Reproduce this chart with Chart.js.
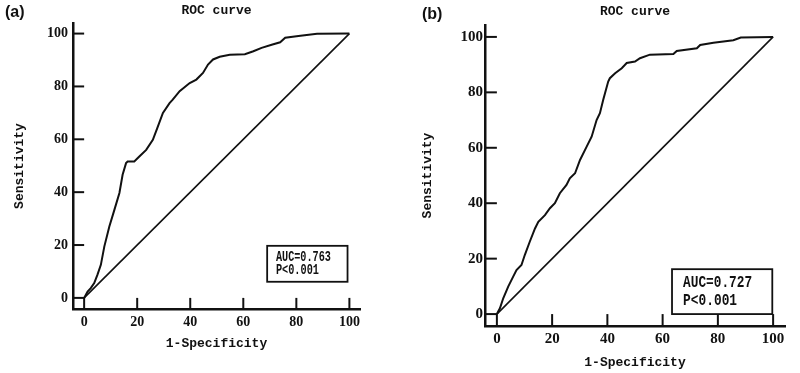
<!DOCTYPE html>
<html>
<head>
<meta charset="utf-8">
<script src="https://cdn.jsdelivr.net/npm/chart.js@4/dist/chart.umd.min.js"></script>
<style>
  body { margin: 0; background: #fff; }
  #wrap { position: relative; width: 800px; height: 373px; }
  .panel { position: absolute; top: 0; width: 400px; height: 373px; }
  .tag { position: absolute; font: bold 16px "Liberation Sans", Arial, sans-serif; color: #111; line-height: 16px; }
</style>
</head>
<body>
<div id="wrap">
  <div class="panel" style="left:0"><canvas id="rocA" width="400" height="373"></canvas></div>
  <div class="panel" style="left:400px"><canvas id="rocB" width="400" height="373"></canvas></div>
  <div class="tag" style="left:5px;top:4px">(a)</div>
  <div class="tag" style="left:422px;top:6px">(b)</div>
</div>
<script>
const tickVals = [0, 20, 40, 60, 80, 100];
const diagX = [0, 100];
const diagY = [0, 100];

const rocAX = [0, 1.3, 2.5, 3.8, 5, 6.3, 7.6, 9.5, 11.4, 13.3, 14.5, 15.8, 16.4, 18.9, 20.8, 23.4, 25.9, 27.5, 29.7, 32.2, 33.4, 36, 39.8, 42.3, 44.8, 46.7, 48.6, 51.1, 54.9, 60.6, 63.8, 66.9, 70.7, 73.9, 75.8, 80.8, 87.8, 100];
const rocAY = [0, 2.4, 3.7, 5.6, 8.7, 12.5, 19.4, 27, 33.3, 39.7, 46.6, 51, 51.6, 51.6, 53.5, 56, 59.8, 64, 70, 73.7, 75, 78.2, 81.3, 82.6, 85.1, 88.3, 90.2, 91.2, 92, 92.2, 93.3, 94.6, 95.8, 96.7, 98.4, 99.1, 99.9, 100];

const rocBX = [0, 1.1, 2.3, 4.1, 5.9, 7.1, 8.9, 10.1, 11.9, 13.8, 15, 17.4, 19.2, 21, 22.8, 25.2, 26.4, 28.3, 30.1, 32.5, 34.3, 36.1, 37.3, 38.5, 40.3, 40.9, 42.8, 45.2, 47, 50, 51.8, 55.4, 63.9, 65.1, 72.4, 73.6, 78.4, 85.6, 88.3, 100];
const rocBY = [0, 2.1, 5.7, 9.9, 13.5, 15.9, 17.7, 21.3, 26.1, 30.9, 33.3, 35.7, 38.2, 40, 43.6, 46.6, 49, 50.8, 55.6, 60.4, 64, 70, 72.5, 77.3, 83.9, 85.1, 86.9, 88.7, 90.6, 91.1, 92.3, 93.6, 93.8, 94.9, 95.9, 97.1, 97.9, 98.8, 99.8, 100];

const aucA = ['AUC=0.763', 'P<0.001'];
const aucB = ['AUC=0.727', 'P<0.001'];

const ink = '#111';

function pts(xs, ys) {
    return xs.map((x, i) => ({x: x, y: ys[i]}));
}

// inward ticks that run from the offset axis to the zero line, plus the AUC box
const roc = {
    id: 'roc',
    afterDatasetsDraw(chart, args, o) {
        const ctx = chart.ctx;
        const xs = chart.scales.x, ys = chart.scales.y;
        const area = chart.chartArea;
        const x0 = xs.getPixelForValue(0), y0 = ys.getPixelForValue(0);
        ctx.save();
        ctx.strokeStyle = ink;
        ctx.lineWidth = 2;
        tickVals.forEach(v => {
            let py = ys.getPixelForValue(v);
            ctx.beginPath();
            ctx.moveTo(area.left, py);
            ctx.lineTo(x0, py);
            ctx.stroke();
            let px = xs.getPixelForValue(v);
            ctx.beginPath();
            ctx.moveTo(px, area.bottom);
            ctx.lineTo(px, y0);
            ctx.stroke();
        });

        // legend box
        let bx1 = xs.getPixelForValue(o.box[0]), bx2 = xs.getPixelForValue(o.box[1]);
        let by1 = ys.getPixelForValue(o.box[3]), by2 = ys.getPixelForValue(o.box[2]);
        ctx.fillStyle = '#fff';
        ctx.fillRect(bx1, by1, bx2 - bx1, by2 - by1);
        ctx.lineWidth = 1.8;
        ctx.strokeRect(bx1, by1, bx2 - bx1, by2 - by1);
        ctx.fillStyle = ink;
        ctx.font = o.font;
        ctx.textBaseline = 'middle';
        o.lines.forEach((t, i) => {
            ctx.fillText(t, xs.getPixelForValue(o.textX), ys.getPixelForValue(o.textY[i]), o.maxW[i]);
        });
        ctx.restore();
    }
};

function makeChart(id, xs, ys, cfg) {
    const tickFont = {family: '"Liberation Serif", serif', size: cfg.tickSize, weight: 'bold'};
    const titleFont = {family: '"Liberation Mono", monospace', size: 13, weight: 'bold'};
    return new Chart(document.getElementById(id), {
        type: 'line',
        data: {
            datasets: [{
                data: pts(xs, ys),
                borderColor: ink,
                borderWidth: 2,
                pointRadius: 0,
                tension: 0
            }, {
                data: pts(diagX, diagY),
                borderColor: ink,
                borderWidth: 1.6,
                pointRadius: 0
            }]
        },
        options: {
            responsive: false,
            animation: false,
            layout: {padding: {left: 0, right: cfg.padRight, top: 0, bottom: 0}},
            plugins: {
                legend: {display: false},
                tooltip: {enabled: false},
                title: {
                    display: true,
                    text: 'ROC curve',
                    fullSize: false,
                    color: ink,
                    font: titleFont,
                    padding: cfg.titlePad
                },
                roc: cfg.box
            },
            scales: {
                x: {
                    type: 'linear',
                    min: cfg.lo,
                    max: cfg.hi,
                    afterBuildTicks: s => { s.ticks = tickVals.map(v => ({value: v})); },
                    afterFit: s => { s.height = cfg.xHeight; },
                    grid: {display: false, drawTicks: false, tickLength: 0},
                    border: {display: true, color: ink, width: 2.5},
                    ticks: {color: ink, font: tickFont, padding: cfg.xPad, maxRotation: 0},
                    title: {display: true, text: '1-Specificity', color: ink, font: titleFont, padding: {top: 0, bottom: cfg.xTitlePad}}
                },
                y: {
                    type: 'linear',
                    min: cfg.lo,
                    max: cfg.hi,
                    afterBuildTicks: s => { s.ticks = tickVals.map(v => ({value: v})); },
                    afterFit: s => { s.width = cfg.yWidth; },
                    grid: {display: false, drawTicks: false, tickLength: 0},
                    border: {display: true, color: ink, width: 2.5},
                    ticks: {color: ink, font: tickFont, padding: cfg.yPad},
                    title: {display: true, text: 'Sensitivity', color: ink, font: titleFont, padding: {top: cfg.yTitlePad, bottom: 0}}
                }
            }
        },
        plugins: [roc]
    });
}

makeChart('rocA', rocAX, rocAY, {
    lo: -4.2, hi: 104, tickSize: 14, padRight: 40,
    titlePad: {top: 3, bottom: 4.4},
    xHeight: 64, xPad: 5, xTitlePad: 21,
    yWidth: 73, yPad: 5, yTitlePad: 12,
    box: {
        box: [69, 99.3, 6.1, 19.7],
        lines: aucA,
        font: 'bold 14px "Liberation Mono", monospace',
        textX: 72.3, textY: [15.4, 10.4], maxW: [55, 43]
    }
});

makeChart('rocB', rocBX, rocBY, {
    lo: -4.3, hi: 104.3, tickSize: 15, padRight: 15,
    titlePad: {top: 4, bottom: 5.4},
    xHeight: 47, xPad: 4, xTitlePad: 2,
    yWidth: 85, yPad: 2, yTitlePad: 20,
    box: {
        box: [63.4, 99.7, 0, 16.2],
        lines: aucB,
        font: 'bold 17px "Liberation Mono", monospace',
        textX: 67.4, textY: [11.3, 4.8], maxW: [69, 54]
    }
});
</script>
</body>
</html>
